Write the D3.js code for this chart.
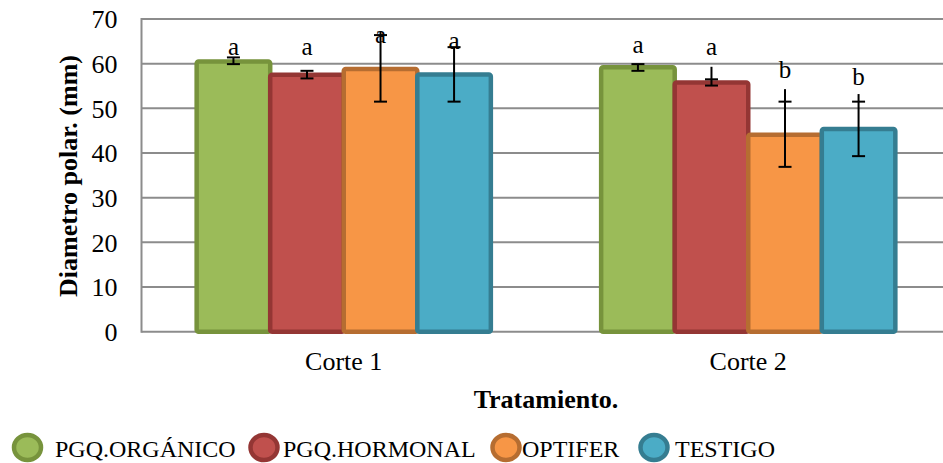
<!DOCTYPE html>
<html>
<head>
<meta charset="utf-8">
<script src="https://cdn.jsdelivr.net/npm/d3@7"></script>
<style>
  html, body { margin: 0; padding: 0; background: #fff; }
  svg { display: block; font-family: "Liberation Serif", "Times New Roman", Times, serif; }
  svg text { font-family: "Liberation Serif", "Times New Roman", Times, serif !important; fill: #000; }
</style>
</head>
<body>
<svg id="chart" width="943" height="463"></svg>
<script>
// ---- Data ----
const categories = ["Corte 1", "Corte 2"];
const seriesNames = ["PGQ.ORGÁNICO", "PGQ.HORMONAL", "OPTIFER", "TESTIGO"];
const organico = [60.5, 59.2];
const hormonal = [57.5, 55.8];
const optifer  = [58.8, 44.1];
const testigo  = [57.6, 45.4];
// error bar line extents and caps (values, mm)
const errTopOrganico = [61.4, 59.9], errBotOrganico = [59.9, 58.4], capTopOrganico = [61.4, 59.9];
const errTopHormonal = [58.4, 59.3], errBotHormonal = [56.7, 55.1], capTopHormonal = [58.4, 56.5];
const errTopOptifer  = [67.2, 54.3], errBotOptifer  = [51.5, 36.9], capTopOptifer  = [66.4, 51.5];
const errTopTestigo  = [63.7, 53.2], errBotTestigo  = [51.5, 39.3], capTopTestigo  = [63.7, 51.5];
// significance letters and the value level where each sits
const lettersOrganico = ["a", "a"], letterAtOrganico = [61.9, 62.3];
const lettersHormonal = ["a", "a"], letterAtHormonal = [61.9, 61.9];
const lettersOptifer  = ["a", "b"], letterAtOptifer  = [64.6, 56.7];
const lettersTestigo  = ["a", "b"], letterAtTestigo  = [63.3, 55.2];
const yTicks = [0, 10, 20, 30, 40, 50, 60, 70];
const yTitle = "Diametro polar. (mm)";
const xTitle = "Tratamiento.";

// ---- Styles ----
const FONT = '"Liberation Serif", "Times New Roman", Times, serif';
const fills   = ["#9BBB59", "#C0504D", "#F79646", "#4BACC6"];
const strokes = ["#77933C", "#943634", "#B66D31", "#357D91"];

const seriesData = [
  {name: seriesNames[0], values: organico, top: errTopOrganico, bot: errBotOrganico, cap: capTopOrganico, letters: lettersOrganico, at: letterAtOrganico},
  {name: seriesNames[1], values: hormonal, top: errTopHormonal, bot: errBotHormonal, cap: capTopHormonal, letters: lettersHormonal, at: letterAtHormonal},
  {name: seriesNames[2], values: optifer,  top: errTopOptifer,  bot: errBotOptifer,  cap: capTopOptifer,  letters: lettersOptifer,  at: letterAtOptifer},
  {name: seriesNames[3], values: testigo,  top: errTopTestigo,  bot: errBotTestigo,  cap: capTopTestigo,  letters: lettersTestigo,  at: letterAtTestigo}
];

const svg = d3.select("#chart");
const plot = {left: 141.5, right: 950.5, top: 19, bottom: 331.7};

const y = d3.scaleLinear().domain([0, 70]).range([plot.bottom, plot.top]);
const x0 = d3.scaleBand().domain(categories).range([plot.left, plot.right]).padding(0);
const x1 = d3.scaleBand().domain(seriesNames).range([0, x0.bandwidth()]).paddingInner(0).paddingOuter(0.75);

// gridlines
svg.append("g").selectAll("line").data(yTicks).join("line")
  .attr("x1", plot.left).attr("x2", plot.right)
  .attr("y1", d => y(d)).attr("y2", d => y(d))
  .attr("stroke", "#8C8C8C").attr("stroke-width", 2);

// y axis line
svg.append("line")
  .attr("x1", plot.left).attr("x2", plot.left)
  .attr("y1", plot.top - 1).attr("y2", plot.bottom + 1)
  .attr("stroke", "#8C8C8C").attr("stroke-width", 2);

// y axis tick labels
const yAxis = d3.axisLeft(y).tickValues(yTicks).tickSize(0).tickPadding(24);
const gy = svg.append("g").attr("transform", `translate(${plot.left},0)`).call(yAxis);
gy.attr("font-family", FONT).attr("font-size", 26);
gy.select(".domain").remove();
gy.selectAll("text").attr("font-family", FONT).style("font-family", FONT)
  .style("font-size", "26px").attr("fill", "#000").attr("dy", "0.34em");

// bars
const groups = svg.append("g").selectAll("g").data(seriesData).join("g");
groups.each(function(s, si) {
  const g = d3.select(this);
  categories.forEach((c, ci) => {
    const bx = x0(c) + x1(s.name);
    const bw = x1.bandwidth();
    g.append("rect")
      .attr("x", bx).attr("y", y(s.values[ci]))
      .attr("width", bw).attr("height", y(0) - y(s.values[ci]))
      .attr("rx", 2).attr("ry", 2)
      .attr("fill", fills[si]).attr("stroke", strokes[si]).attr("stroke-width", 4.5);
  });
});

// error bars
const eb = svg.append("g");
seriesData.forEach((s, si) => {
  categories.forEach((c, ci) => {
    const cx = x0(c) + x1(s.name) + x1.bandwidth() / 2;
    eb.append("line").attr("x1", cx).attr("x2", cx)
      .attr("y1", y(s.top[ci])).attr("y2", y(s.bot[ci]))
      .attr("stroke", "#000").attr("stroke-width", 2);
    [s.cap[ci], s.bot[ci]].forEach(v => {
      eb.append("line").attr("x1", cx - 6.5).attr("x2", cx + 6.5)
        .attr("y1", y(v)).attr("y2", y(v))
        .attr("stroke", "#000").attr("stroke-width", 2);
    });
  });
});

// letters
const lab = svg.append("g");
seriesData.forEach((s, si) => {
  categories.forEach((c, ci) => {
    const cx = x0(c) + x1(s.name) + x1.bandwidth() / 2;
    lab.append("text").attr("x", cx).attr("y", y(s.at[ci]))
      .attr("text-anchor", "middle").style("font-family", FONT).style("font-size", "25px")
      .text(s.letters[ci]);
  });
});

// x axis category labels
svg.append("g").selectAll("text").data(categories).join("text")
  .attr("x", d => x0(d) + x0.bandwidth() / 2)
  .attr("y", 370)
  .attr("text-anchor", "middle").style("font-family", FONT).style("font-size", "26px")
  .text(d => d);

// axis titles
svg.append("text").attr("x", 546).attr("y", 408)
  .attr("text-anchor", "middle").style("font-family", FONT).style("font-size", "26px").style("font-weight", "bold")
  .text(xTitle);
svg.append("text")
  .attr("transform", `translate(77,176) rotate(-90)`)
  .attr("text-anchor", "middle").style("font-family", FONT).style("font-size", "26px").style("font-weight", "bold")
  .text(yTitle);

// legend
const legendX = [27.5, 264, 506, 654];
const lg = svg.append("g");
seriesNames.forEach((n, i) => {
  lg.append("ellipse").attr("cx", legendX[i]).attr("cy", 447.5)
    .attr("rx", 13.5).attr("ry", 12.5)
    .attr("fill", fills[i]).attr("stroke", strokes[i]).attr("stroke-width", 4.5);
});
const legendTextX = [55, 283, 522, 675];
seriesNames.forEach((n, i) => {
  lg.append("text").attr("x", legendTextX[i]).attr("y", 457)
    .style("font-family", FONT).style("font-size", "24px")
    .text(n);
});
</script>
</body>
</html>
